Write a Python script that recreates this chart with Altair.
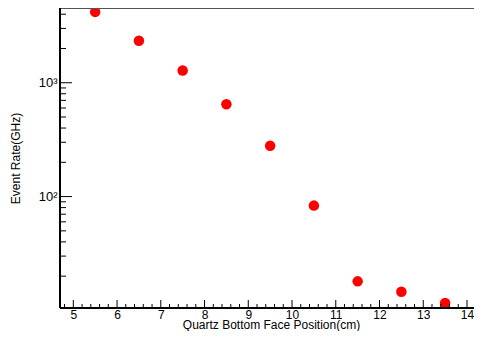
import altair as alt
import pandas as pd

positions = [5.5, 6.5, 7.5, 8.5, 9.5, 10.5, 11.5, 12.5, 13.5]
rates = [4190, 2340, 1280, 647, 279, 83.3, 18.0, 14.6, 11.6]

x_major = [5, 6, 7, 8, 9, 10, 11, 12, 13, 14]
x_minor = [4.8, 5.2, 5.4, 5.6, 5.8, 6.2, 6.4, 6.6, 6.8, 7.2, 7.4, 7.6, 7.8,
           8.2, 8.4, 8.6, 8.8, 9.2, 9.4, 9.6, 9.8, 10.2, 10.4, 10.6, 10.8,
           11.2, 11.4, 11.6, 11.8, 12.2, 12.4, 12.6, 12.8, 13.2, 13.4, 13.6,
           13.8]
y_major = [100, 1000]
y_minor = [20, 30, 40, 50, 60, 70, 80, 90,
           200, 300, 400, 500, 600, 700, 800, 900,
           2000, 3000, 4000]

df = pd.DataFrame({"pos": positions, "rate": rates})

W, H = 414, 300
FONT = "Liberation Sans"

xs = alt.Scale(domain=[4.696, 14.16], nice=False, zero=False)
ys = alt.Scale(type="log", domain=[10.5, 4535], nice=False)

points = alt.Chart(df).mark_circle(size=110, color="#ff0000", opacity=1).encode(
    x=alt.X("pos:Q", scale=xs, axis=alt.Axis(
        orient="bottom", values=x_major, grid=False, ticks=False,
        domain=False,
        labelFontSize=12, labelPadding=1, labelColor="black",
        title="Quartz Bottom Face Position(cm)", titleFontSize=12,
        titleFontWeight="normal", titleColor="black",
        titleX=211, titleY=20, titleAlign="center",
        titleBaseline="alphabetic")),
    y=alt.Y("rate:Q", scale=ys, axis=alt.Axis(
        orient="left", values=y_major, grid=False, ticks=False,
        domain=False,
        labelExpr="datum.value == 1000 ? '10³' : '10²'",
        labelFontSize=13, labelPadding=3, labelColor="black",
        title="Event Rate(GHz)", titleFontSize=12, titleFontWeight="normal",
        titleColor="black", titleX=-45, titleY=150, titleAngle=-90,
        titleAlign="center", titleBaseline="middle")),
)


def xticks(values, length):
    return alt.Chart(pd.DataFrame({"v": values})).mark_rule(
        color="black", strokeWidth=1
    ).encode(
        x=alt.X("v:Q", scale=xs, axis=None),
        y=alt.value(H), y2=alt.value(H - length),
    )


def yticks(values, length):
    return alt.Chart(pd.DataFrame({"v": values})).mark_rule(
        color="black", strokeWidth=1
    ).encode(
        y=alt.Y("v:Q", scale=ys, axis=None),
        x=alt.value(0), x2=alt.value(length),
    )


frame_top = alt.Chart(df).mark_rule(color="#555555", strokeWidth=1.5).encode(
    x=alt.value(0), x2=alt.value(W), y=alt.value(0)
)
frame_left = alt.Chart(df).mark_rule(color="black", strokeWidth=1.2).encode(
    x=alt.value(0), y=alt.value(0), y2=alt.value(H)
)
frame_bottom = alt.Chart(df).mark_rule(color="black", strokeWidth=1.2).encode(
    x=alt.value(0), x2=alt.value(W), y=alt.value(H)
)

chart = alt.layer(
    points,
    xticks(x_major, 8), xticks(x_minor, 4),
    yticks(y_major, 12), yticks(y_minor, 6),
    frame_top, frame_left, frame_bottom,
).resolve_scale(
    x="shared", y="shared"
).resolve_axis(
    x="independent", y="independent"
).properties(
    width=W, height=H,
    autosize=alt.AutoSizeParams(type="none"),
    padding={"left": 52, "top": 0, "right": 0, "bottom": 23},
).configure(font=FONT).configure_view(strokeWidth=0)

chart.save("out.html", embed_options={"renderer": "svg", "actions": False})
